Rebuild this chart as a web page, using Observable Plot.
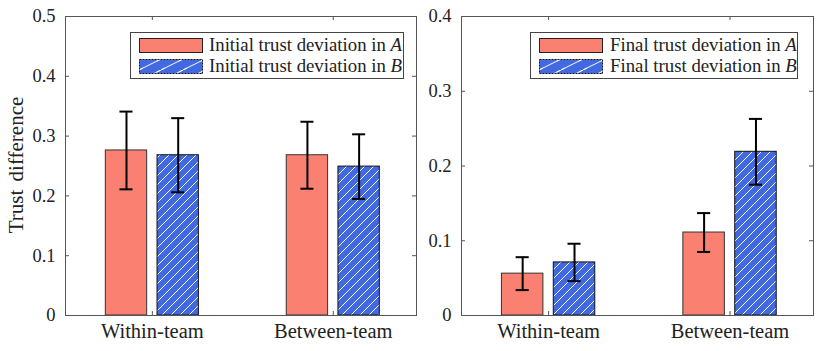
<!DOCTYPE html>
<html>
<head>
<meta charset="utf-8">
<script src="https://cdn.jsdelivr.net/npm/d3@7"></script>
<script src="https://cdn.jsdelivr.net/npm/@observablehq/plot@0.6"></script>
<style>
  html, body { margin: 0; padding: 0; background: #fff; }
  #wrap { position: relative; width: 830px; height: 351px; font-family: "Liberation Serif", serif; color: #222; }
  #wrap svg { position: absolute; top: 0; }
  .legend { position: absolute; background: #fff; border: 1px solid #444; box-sizing: border-box; }
  .lrow { position: absolute; font-size: 18.8px; line-height: 19px; white-space: nowrap; color: #222; }
  .ylab { position: absolute; font-size: 21px; white-space: nowrap; word-spacing: 3px; transform: translate(-50%, -50%) rotate(-90deg); color: #222; }
</style>
</head>
<body>
<div id="wrap"></div>
<script>
// ---- data ----
const groups = ["Within-team", "Between-team"];
const initialA = [0.276, 0.268];
const initialAErr = [0.065, 0.056];
const initialB = [0.268, 0.249];
const initialBErr = [0.062, 0.054];
const finalA = [0.056, 0.111];
const finalAErr = [0.022, 0.026];
const finalB = [0.071, 0.219];
const finalBErr = [0.025, 0.044];
const leftTicks = [0, 0.1, 0.2, 0.3, 0.4, 0.5];
const rightTicks = [0, 0.1, 0.2, 0.3, 0.4];
const legendLeft = ["Initial trust deviation in ", "Initial trust deviation in "];
const legendRight = ["Final trust deviation in ", "Final trust deviation in "];
const seriesVars = ["A", "B"];

// ---- layout constants (MATLAB grouped bar geometry) ----
const OFF = 0.1429, HW = 0.1143, CAP = 0.036;
const colA = "#FA8072", colB = "#4169E1";
const H = 351, MT = 16, MB = 36;

function rows(a, ae, b, be) {
  return groups.flatMap((g, i) => [
    {g: i + 1, s: 0, v: a[i], e: ae[i]},
    {g: i + 1, s: 1, v: b[i], e: be[i]}
  ]);
}

function panel({data, ticks, ymax, width, ml, mr, pid}) {
  const pw = width - ml - mr, ph = H - MT - MB;
  const xc = d => d.g + (d.s === 0 ? -OFF : OFF);
  const p = Plot.plot({
    width, height: H, marginLeft: ml, marginRight: mr, marginTop: MT, marginBottom: MB,
    style: {fontFamily: "'Liberation Serif', serif", fontSize: "18.5px", color: "#222", background: "transparent"},
    x: {domain: [0.52, 2.46], axis: null},
    y: {domain: [0, ymax], axis: null},
    marks: [
      Plot.rect(data, {
        x1: d => xc(d) - HW, x2: d => xc(d) + HW, y1: 0, y2: "v",
        fill: d => d.s === 0 ? colA : `url(#${pid})`,
        stroke: d => d.s === 0 ? "#333" : "#111",
        strokeWidth: 1,
        strokeDasharray: d => d.s === 0 ? null : "2.5,1.5"
      }),
      Plot.ruleX(data, {x: xc, y1: d => d.v - d.e, y2: d => d.v + d.e, stroke: "#000", strokeWidth: 2}),
      Plot.ruleY(data, {y: d => d.v + d.e, x1: d => xc(d) - CAP, x2: d => xc(d) + CAP, stroke: "#000", strokeWidth: 2}),
      Plot.ruleY(data, {y: d => d.v - d.e, x1: d => xc(d) - CAP, x2: d => xc(d) + CAP, stroke: "#000", strokeWidth: 2}),
      Plot.frame({stroke: "#555", strokeWidth: 1}),
      // inward ticks
      Plot.tickY(ticks, {y: d => d, insetRight: pw - 4, stroke: "#555"}),
      Plot.tickY(ticks, {y: d => d, insetLeft: pw - 4, stroke: "#555"}),
      Plot.tickX([1, 2], {x: d => d, insetBottom: ph - 4, stroke: "#555"}),
      Plot.tickX([1, 2], {x: d => d, insetTop: ph - 4, stroke: "#555"}),
      Plot.axisY(ticks, {label: null, tickSize: 0, tickPadding: 10, tickFormat: d => String(+d.toFixed(1)), fill: "#222"}),
      Plot.axisX([1, 2], {label: null, tickSize: 0, tickPadding: 8, fontSize: 20.5, tickFormat: d => groups[d - 1], fill: "#222"})
    ]
  });
  const ns = "http://www.w3.org/2000/svg";
  const defs = document.createElementNS(ns, "defs");
  defs.innerHTML = `<pattern id="${pid}" patternUnits="userSpaceOnUse" width="9" height="9">
      <rect width="9" height="9" fill="${colB}"/>
      <path d="M-2,2 L2,-2 M0,9 L9,0 M7,11 L11,7" stroke="#fff" stroke-width="1"/>
    </pattern>`;
  p.insertBefore(defs, p.firstChild);
  return p;
}

const wrap = document.getElementById("wrap");
const left = panel({data: rows(initialA, initialAErr, initialB, initialBErr), ticks: leftTicks, ymax: 0.5, width: 418, ml: 65, mr: 2, pid: "hatchL"});
left.style.left = "0px";
wrap.appendChild(left);
const right = panel({data: rows(finalA, finalAErr, finalB, finalBErr), ticks: rightTicks, ymax: 0.4, width: 412, ml: 43, mr: 17, pid: "hatchR"});
right.style.left = "418px";
wrap.appendChild(right);

// y label
const yl = document.createElement("div");
yl.className = "ylab";
yl.style.left = "16px"; yl.style.top = "165px";
yl.textContent = "Trust difference";
wrap.appendChild(yl);

// legends
function swatch(i, id) {
  if (i === 0) return `<div style="position:absolute;left:0;top:0;width:64px;height:15px;box-sizing:border-box;background:${colA};border:1px solid #222"></div>`;
  return `<svg width="64" height="15" style="position:absolute;left:0;top:0">
    <defs><pattern id="${id}" patternUnits="userSpaceOnUse" width="22" height="11">
      <rect width="22" height="11" fill="${colB}"/>
      <path d="M-4,13 L26,-2" stroke="#fff" stroke-width="1"/>
      <path d="M-26,24 L4,9 M18,2 L26,-2" stroke="#fff" stroke-width="1"/>
    </pattern></defs>
    <rect x="0.5" y="0.5" width="63" height="14" fill="url(#${id})" stroke="#111" stroke-dasharray="2,1"/></svg>`;
}
function legend(x, y, w, h, labels, swX, txtX, idp) {
  const box = document.createElement("div");
  box.className = "legend";
  Object.assign(box.style, {left: x + "px", top: y + "px", width: w + "px", height: h + "px"});
  labels.forEach((lab, i) => {
    const sw = document.createElement("div");
    Object.assign(sw.style, {position: "absolute", left: (swX - x - 1) + "px", top: (5 + i * 21) + "px", width: "64px", height: "15px"});
    sw.innerHTML = swatch(i, idp + i);
    box.appendChild(sw);
    const t = document.createElement("div");
    t.className = "lrow";
    Object.assign(t.style, {left: (txtX - x - 1) + "px", top: (2 + i * 21) + "px"});
    t.innerHTML = lab + "<i>" + seriesVars[i] + "</i>";
    box.appendChild(t);
  });
  wrap.appendChild(box);
}
legend(130, 32, 274, 47, legendLeft, 139, 209, "lgL");
legend(530, 32, 268, 47, legendRight, 539, 610, "lgR");
</script>
</body>
</html>
